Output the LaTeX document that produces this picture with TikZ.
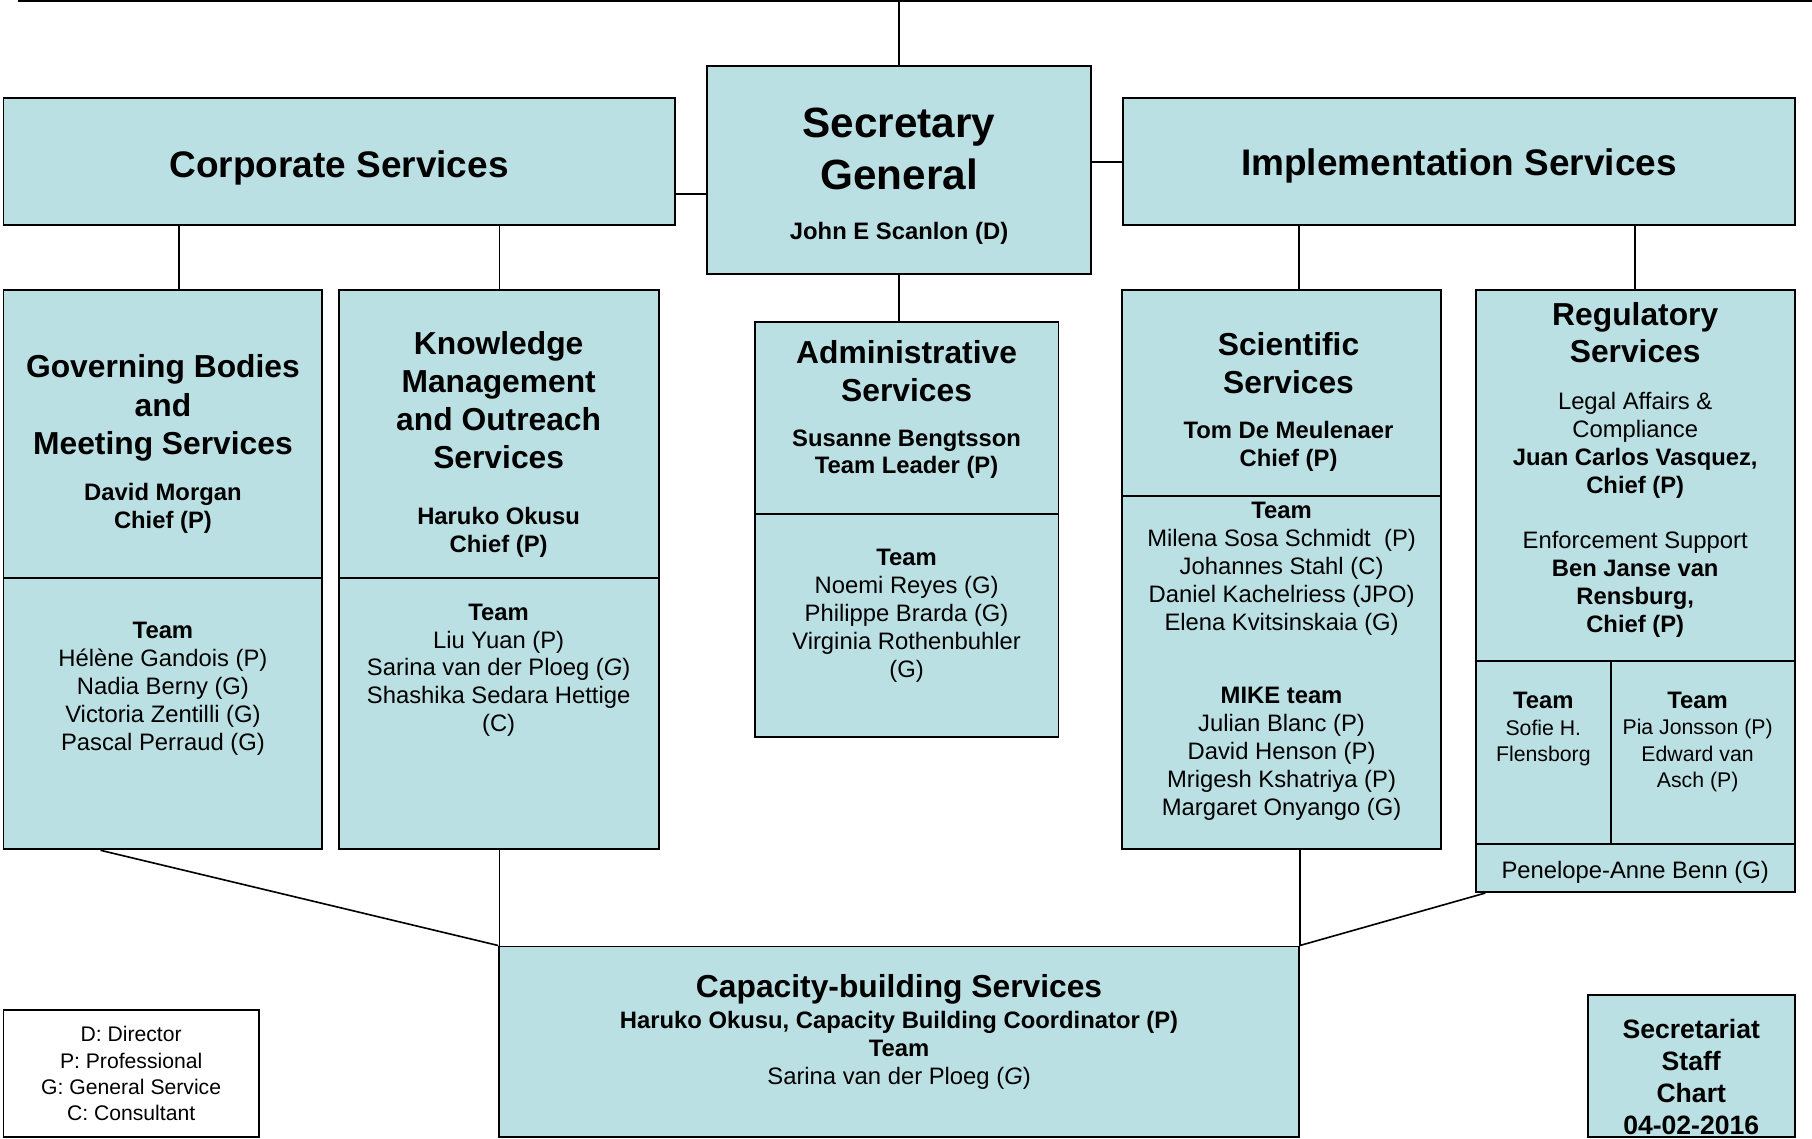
\documentclass[tikz,border=0pt]{standalone}
\usepackage{fontspec}
\setmainfont{Liberation Sans}
\usetikzlibrary{calc}

\definecolor{boxblue}{RGB}{187,224,227}

\newcommand{\hdfont}{\fontsize{32}{38}\selectfont\bfseries}
\newcommand{\sgfont}{\fontsize{36.6}{45}\selectfont\bfseries}
\newcommand{\ttlfont}{\fontsize{27.5}{33}\selectfont\bfseries}
\newcommand{\whofont}{\fontsize{20.6}{24.2}\selectfont\bfseries}
\newcommand{\txtfont}{\fontsize{20.6}{24.2}\selectfont}
\newcommand{\smlfont}{\fontsize{18.4}{22.7}\selectfont}
\newcommand{\legfont}{\fontsize{18.3}{22.6}\selectfont}
\newcommand{\chartfont}{\fontsize{23}{27.5}\selectfont\bfseries}

\tikzset{
    box/.style={draw=black, line width=1.6pt, fill=boxblue, inner sep=0pt},
    boxsize/.style 2 args={minimum width=#1pt, minimum height=#2pt},
}

\begin{document}
\begin{tikzpicture}[x=1pt, y=-1pt]
            \useasboundingbox (0,0) rectangle (1568,985);
            \clip (0,0) rectangle (1568,985);

            % boxes
            \begin{scope}[every node/.style={box}]
                \node[boxsize={1583}{31}] (topbox) at (808,-14.5) {};
                \node[boxsize={581}{110}] (corp) at (293.5,140) {};
                \node[boxsize={332}{180}] (sg) at (778,147) {};
                \node[boxsize={581}{110}] (impl) at (1262.5,140) {};
                \node[boxsize={276}{249}] (gbHead) at (141,375.5) {};
                \node[boxsize={276}{235}] (gbTeam) at (141,617.5) {};
                \node[boxsize={277}{249}] (kmHead) at (431.5,375.5) {};
                \node[boxsize={277}{235}] (kmTeam) at (431.5,617.5) {};
                \node[boxsize={263}{166}] (adHead) at (784.5,362) {};
                \node[boxsize={263}{193}] (adTeam) at (784.5,541.5) {};
                \node[boxsize={276}{178}] (sciHead) at (1109,340) {};
                \node[boxsize={276}{306}] (sciTeam) at (1109,582) {};
                \node[boxsize={276}{321}] (regHead) at (1415,411.5) {};
                \node[boxsize={117}{158}] (regLeft) at (1335.5,651) {};
                \node[boxsize={159}{158}] (regRight) at (1473.5,651) {};
                \node[boxsize={276}{42}] (regFoot) at (1415,751) {};
                \node[boxsize={692}{165}] (cap) at (778,901.5) {};
                \node[boxsize={179}{123}] (chart) at (1463.5,922.5) {};
                \node[boxsize={221}{110}, fill=white, line width=1.3pt] (legend) at (113.5,929) {};
            \end{scope}

            % connectors
            \coordinate (corpSg) at ([yshift=-21pt]sg.west);
            \coordinate (corpGb) at ([xshift=14pt]gbHead.north);
            \coordinate (corpKm) at ([xshift=0.6pt]kmHead.north);
            \coordinate (kmCap) at ([xshift=0.6pt]kmTeam.south);
            \coordinate (implSci) at ([xshift=15pt]sciHead.north);
            \coordinate (gbCap) at ([xshift=-54pt]gbTeam.south);
            \coordinate (regCap) at ([xshift=9pt]regFoot.south west);

            \begin{scope}[every edge/.style={draw=black, line width=1.4pt}]
                \path (sg.north) edge (sg.north |- topbox.south);
                \path (corpSg) edge (corpSg -| corp.east);
                \path (impl.west) edge (impl.west -| sg.east);
                \path (corpGb) edge (corpGb |- corp.south);
                \path (corpKm) edge (corpKm |- corp.south);
                \path (implSci) edge (implSci |- impl.south);
                \path (regHead.north) edge (regHead.north |- impl.south);
                \path (sg.south) edge (sg.south |- adHead.north);
                \path (gbCap) edge (cap.north west);
                \path (kmCap) edge (kmCap |- cap.north);
                \path (cap.north east) edge (cap.north east |- sciTeam.south);
                \path (regCap) edge (cap.north east);
            \end{scope}

            % texts
            \begin{scope}[every node/.style={align=center, inner sep=0pt, yshift=-2pt}]
                \node[font=\hdfont] (corpText) at (293.5,143) {Corporate Services};
                \node[font=\hdfont] (implText) at (1262.5,142) {Implementation Services};
                \node[font=\sgfont] (sgTitle) at (778,127) {Secretary\\General};
                \node[font=\whofont] (sgChief) at (778,200) {John E Scanlon (D)};

                \node[font=\ttlfont] (gbTitle) at (141,351) {Governing Bodies\\and\\Meeting Services};
                \node[font=\whofont] (gbChief) at (141,438) {David Morgan\\Chief (P)};
                \node[font=\txtfont] (gbStaff) at (141,594) {\textbf{Team}\\Hélène Gandois (P)\\Nadia Berny (G)\\Victoria Zentilli (G)\\Pascal Perraud (G)};

                \node[font=\ttlfont] (kmTitle) at (431.5,344) {Knowledge\\Management\\and Outreach\\Services};
                \node[font=\whofont] (kmChief) at (431.5,459) {Haruko Okusu\\Chief (P)};
                \node[font=\txtfont] (kmStaff) at (431.5,578) {\textbf{Team}\\Liu Yuan (P)\\Sarina van der Ploeg (\textit{G})\\Shashika Sedara Hettige\\(C)};

                \node[font=\ttlfont] (adTitle) at (784.5,319) {Administrative\\Services};
                \node[font=\whofont] (adChief) at (784.5,391) {Susanne Bengtsson\\Team Leader (P)};
                \node[font=\txtfont] (adStaff) at (784.5,531) {\textbf{Team}\\Noemi Reyes (G)\\Philippe Brarda (G)\\Virginia Rothenbuhler\\(G)};

                \node[font=\ttlfont] (sciTitle) at (1115,312) {Scientific\\Services};
                \node[font=\whofont] (sciChief) at (1115,384) {Tom De Meulenaer\\Chief (P)};
                \node[font=\txtfont] (sciStaff) at (1109,490) {\textbf{Team}\\Milena Sosa Schmidt\ \ (P)\\Johannes Stahl (C)\\Daniel Kachelriess (JPO)\\Elena Kvitsinskaia (G)};
                \node[font=\txtfont] (mikeStaff) at (1109,650) {\textbf{MIKE team}\\Julian Blanc (P)\\David Henson (P)\\Mrigesh Kshatriya (P)\\Margaret Onyango (G)};

                \node[font=\fontsize{27.5}{32}\selectfont\bfseries] (regTitle) at (1415,286) {Regulatory\\Services};
                \node[font=\txtfont] (regLegal) at (1415,383) {Legal Affairs \&\\Compliance\\\textbf{Juan Carlos Vasquez,}\\\textbf{Chief (P)}};
                \node[font=\txtfont] (regEnf) at (1415,504) {Enforcement Support\\\textbf{Ben Janse van}\\\textbf{Rensburg,}\\\textbf{Chief (P)}};
                \node[font=\smlfont] (regLeftText) at (1335.5,629) {{\whofont Team}\\Sofie H.\\Flensborg};
                \node[font=\smlfont] (regRightText) at (1469,640) {{\whofont Team}\\Pia Jonsson (P)\\Edward van\\Asch (P)};
                \node[font=\txtfont] (regFootText) at (1415,753) {Penelope-Anne Benn (G)};

                \node[font=\ttlfont] (capTitle) at (778,854) {Capacity-building Services};
                \node[font=\txtfont] (capStaff) at (778,907) {\textbf{Haruko Okusu, Capacity Building Coordinator (P)}\\\textbf{Team}\\Sarina van der Ploeg (\textit{G})};

                \node[font=\legfont] (legendText) at (113.5,927) {D: Director\\P: Professional\\G: General Service\\C: Consultant};
                \node[font=\chartfont] (chartText) at (1463.5,930) {Secretariat\\Staff\\Chart\\04-02-2016};
            \end{scope}
        \end{tikzpicture}
\end{document}
